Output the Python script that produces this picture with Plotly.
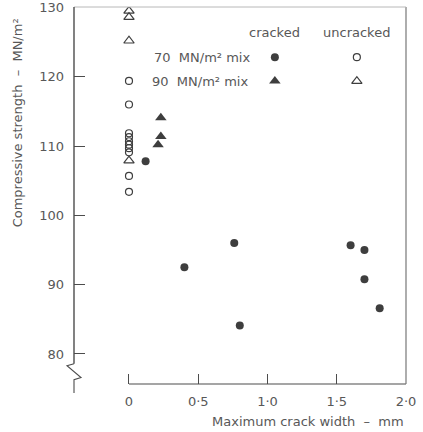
import plotly.graph_objects as go

# ---- data -------------------------------------------------------------
# 70 MN/m² mix, cracked specimens: crack width (mm) and strength (MN/m²)
crk70_width = [0.12, 0.40, 0.76, 0.80, 1.60, 1.70, 1.70, 1.81]
crk70_strength = [107.8, 92.5, 96.0, 84.1, 95.7, 95.0, 90.8, 86.6]

# 90 MN/m² mix, cracked specimens
crk90_width = [0.21, 0.23, 0.23]
crk90_strength = [110.2, 111.4, 114.1]

# uncracked specimens (crack width zero)
unc70_strength = [119.4, 116.0, 111.85, 111.3, 110.7, 110.2, 109.7, 109.1, 105.7, 103.4]
unc90_strength = [129.5, 128.6, 125.2, 107.9]

y_tick_vals = [80, 90, 100, 110, 120, 130]
x_tick_vals = [0, 0.5, 1.0, 1.5, 2.0]
x_tick_text = ["0", "0·5", "1·0", "1·5", "2·0"]

# ---- styling ----------------------------------------------------------
W, H = 423, 432
MARGIN = dict(l=74, r=17, t=7, b=39)
X_RANGE = [-0.397, 2.0]
Y_RANGE = [74.37, 130.07]
X_AXIS_AT = 75.67          # strength level where the width axis sits
BREAK_TOP, BREAK_BOT = 78.6, 76.3

FONT = "DejaVu Sans"
TXT = "#585858"
INK = "#3e3e3e"
AX = "#4c4c4c"


def px(v):
    return (v - X_RANGE[0]) / (X_RANGE[1] - X_RANGE[0])


def py(v):
    return (v - Y_RANGE[0]) / (Y_RANGE[1] - Y_RANGE[0])


fig = go.Figure()

fig.add_trace(go.Scatter(
    x=[0] * len(unc70_strength), y=unc70_strength, mode="markers",
    marker=dict(symbol="circle-open", size=7, color=INK, line=dict(width=1.2)),
))
fig.add_trace(go.Scatter(
    x=[0] * len(unc90_strength), y=unc90_strength, mode="markers",
    marker=dict(symbol="triangle-up-open", size=9, color=INK, line=dict(width=1.2)),
))
fig.add_trace(go.Scatter(
    x=crk70_width, y=crk70_strength, mode="markers",
    marker=dict(symbol="circle", size=8, color=INK),
))
fig.add_trace(go.Scatter(
    x=crk90_width, y=crk90_strength, mode="markers",
    marker=dict(symbol="triangle-up", size=10, color=INK),
))

# ---- key (drawn on an overlay with unit ranges) -----------------------
key_col_x = [0.605, 0.852]        # cracked, uncracked
key_row_y = [0.870, 0.808]        # 70 mix, 90 mix
key_head_y = 0.933
fig.add_trace(go.Scatter(
    x=[key_col_x[0]], y=[key_row_y[0]], xaxis="x2", yaxis="y2", mode="markers",
    marker=dict(symbol="circle", size=8, color=INK),
))
fig.add_trace(go.Scatter(
    x=[key_col_x[1]], y=[key_row_y[0]], xaxis="x2", yaxis="y2", mode="markers",
    marker=dict(symbol="circle-open", size=7, color=INK, line=dict(width=1.2)),
))
fig.add_trace(go.Scatter(
    x=[key_col_x[0]], y=[key_row_y[1]], xaxis="x2", yaxis="y2", mode="markers",
    marker=dict(symbol="triangle-up", size=10, color=INK),
))
fig.add_trace(go.Scatter(
    x=[key_col_x[1]], y=[key_row_y[1]], xaxis="x2", yaxis="y2", mode="markers",
    marker=dict(symbol="triangle-up-open", size=9, color=INK, line=dict(width=1.2)),
))

annotations = [
    dict(text="cracked", x=key_col_x[0], y=key_head_y),
    dict(text="uncracked", x=key_col_x[1], y=key_head_y),
    dict(text="70  MN/m² mix", x=0.235, y=key_row_y[0], xanchor="left"),
    dict(text="90  MN/m² mix", x=0.229, y=key_row_y[1], xanchor="left"),
]
for a in annotations:
    a.update(xref="paper", yref="paper", showarrow=False, yanchor="middle",
             font=dict(family=FONT, size=13, color=TXT))
    a.setdefault("xanchor", "center")

# axis titles
annotations.append(dict(
    text="Maximum crack width  –  mm", xref="paper", yref="paper",
    x=0.704, y=-0.075, xanchor="center", yanchor="middle", showarrow=False,
    font=dict(family=FONT, size=13, color=TXT)))
annotations.append(dict(
    text="Compressive strength  –  MN/m²", xref="paper", yref="paper",
    x=-0.17, y=0.70, textangle=-90, xanchor="center", yanchor="middle",
    showarrow=False, font=dict(family=FONT, size=13, color=TXT)))

# ---- frame lines ------------------------------------------------------
zig = 7 / (W - MARGIN["l"] - MARGIN["r"])
shapes = [
    # width axis, starting at zero
    dict(type="line", xref="paper", yref="paper", x0=px(0), x1=1,
         y0=py(X_AXIS_AT), y1=py(X_AXIS_AT), line=dict(color=AX, width=1.2)),
    # right frame
    dict(type="line", xref="paper", yref="paper", x0=1, x1=1,
         y0=py(X_AXIS_AT), y1=1, line=dict(color="#777777", width=1.2)),
    # top frame
    dict(type="line", xref="paper", yref="paper", x0=0, x1=1,
         y0=1, y1=1, line=dict(color="#b8b8b8", width=1)),
    # strength axis above the break
    dict(type="line", xref="paper", yref="paper", x0=0, x1=0,
         y0=py(BREAK_TOP), y1=1, line=dict(color=AX, width=1.4)),
    # axis break
    dict(type="path", xref="paper", yref="paper",
         path=(f"M 0 {py(BREAK_TOP)} L {-zig} {py(BREAK_TOP - 0.3)} "
               f"L {zig} {py(BREAK_BOT + 0.3)} L 0 {py(BREAK_BOT)} L 0 0"),
         line=dict(color=AX, width=1.1)),
]

fig.update_layout(
    width=W, height=H, margin=MARGIN,
    paper_bgcolor="white", plot_bgcolor="white",
    showlegend=False,
    font=dict(family=FONT, size=13, color=TXT),
    annotations=annotations, shapes=shapes,
    xaxis=dict(
        range=X_RANGE, anchor="free", position=py(X_AXIS_AT),
        tickvals=x_tick_vals, ticktext=x_tick_text,
        ticks="inside", ticklen=10, tickcolor=AX, tickwidth=1.2,
        ticklabelstandoff=8, automargin=False,
        showgrid=False, zeroline=False, showline=False,
        tickfont=dict(family=FONT, size=13, color=TXT),
    ),
    yaxis=dict(
        range=Y_RANGE, tickvals=y_tick_vals,
        ticks="inside", ticklen=11, tickcolor=AX, tickwidth=1,
        ticklabelstandoff=9, automargin=False,
        showgrid=False, zeroline=False, showline=False,
        tickfont=dict(family=FONT, size=13, color=TXT),
    ),
    xaxis2=dict(range=[0, 1], overlaying="x", visible=False),
    yaxis2=dict(range=[0, 1], overlaying="y", visible=False),
)

fig.write_html("out.html")
